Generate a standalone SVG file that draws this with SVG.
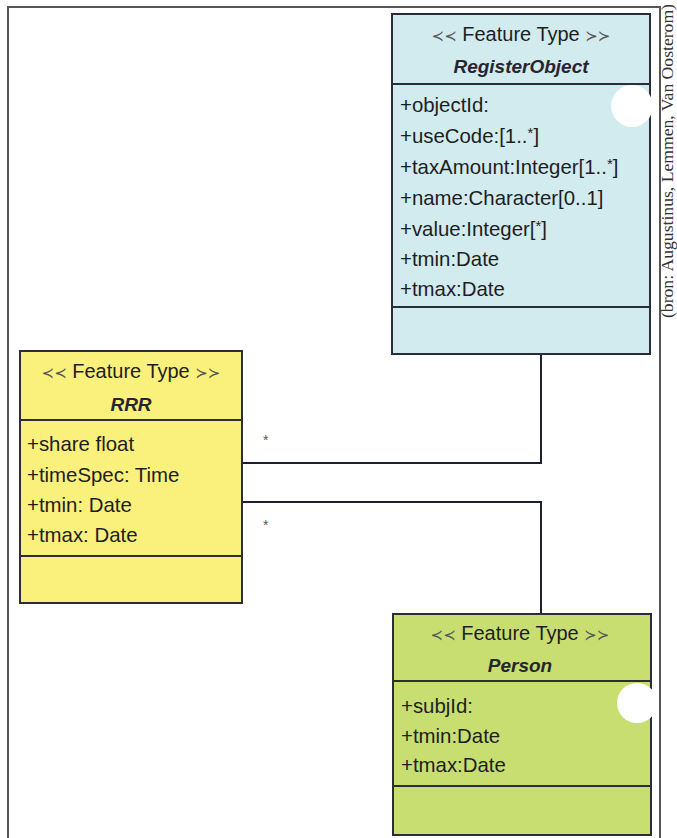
<svg xmlns="http://www.w3.org/2000/svg" width="677" height="838" viewBox="0 0 677 838">
<style>
.box{stroke:#2b2e38;stroke-width:2}
.t{font-family:"Liberation Sans",Arial,sans-serif;font-size:20.4px;fill:#1e1e1e}
.h{font-family:"Liberation Sans",Arial,sans-serif;font-size:20px;fill:#1e1e1e;text-anchor:middle}
.g{fill:#555;font-family:"DejaVu Sans",sans-serif;font-size:15px}
.n{font-family:"Liberation Sans",Arial,sans-serif;font-size:19px;font-weight:bold;font-style:italic;fill:#262630;text-anchor:middle}
.conn{fill:none;stroke:#1e2030;stroke-width:2}
.m{font-family:"Liberation Sans",Arial,sans-serif;font-size:14px;fill:#556050}
</style>
<rect width="677" height="838" fill="#ffffff"/>
<g id="frame">
<polyline points="8,838 8,7 660,7 660,838" fill="none" stroke="#555" stroke-width="2"/>
<text transform="translate(673,318) rotate(-90)" font-family="Liberation Serif,serif" font-size="16" fill="#333" textLength="314" lengthAdjust="spacingAndGlyphs">(bron: Augustinus, Lemmen, Van Oosterom)</text>
</g>
<g id="connectors">
<polyline class="conn" points="541,354 541,463 242,463"/>
<polyline class="conn" points="242,502 541,502 541,614"/>
<text class="m" x="263" y="445">*</text>
<text class="m" x="263" y="530">*</text>
</g>
<g id="RegisterObject">
<rect class="box" x="392" y="14" width="258" height="340" fill="#d2ebef"/>
<line class="box" x1="392" y1="84" x2="650" y2="84"/>
<line class="box" x1="392" y1="307" x2="650" y2="307"/>
<text class="h" x="521" y="41"><tspan class="g">≺≺</tspan> Feature Type <tspan class="g">≻≻</tspan></text>
<text class="n" x="521" y="73">RegisterObject</text>
<text class="t" x="400" y="112">+objectId:</text>
<text class="t" x="400" y="143">+useCode:[1..<tspan dy="-5" font-size="15">*</tspan><tspan dy="5">]</tspan></text>
<text class="t" x="400" y="174">+taxAmount:Integer[1..<tspan dy="-5" font-size="15">*</tspan><tspan dy="5">]</tspan></text>
<text class="t" x="400" y="205">+name:Character[0..1]</text>
<text class="t" x="400" y="236">+value:Integer[<tspan dy="-5" font-size="15">*</tspan><tspan dy="5">]</tspan></text>
<text class="t" x="400" y="266">+tmin:Date</text>
<text class="t" x="400" y="296">+tmax:Date</text>
<circle cx="632" cy="106" r="21" fill="#ffffff"/>
</g>
<g id="RRR">
<rect class="box" x="20" y="351" width="222" height="252" fill="#faf07c"/>
<line class="box" x1="20" y1="420" x2="242" y2="420"/>
<line class="box" x1="20" y1="556" x2="242" y2="556"/>
<text class="h" x="131" y="378"><tspan class="g">≺≺</tspan> Feature Type <tspan class="g">≻≻</tspan></text>
<text class="n" x="131" y="411">RRR</text>
<text class="t" x="27" y="451">+share float</text>
<text class="t" x="27" y="482">+timeSpec: Time</text>
<text class="t" x="27" y="512">+tmin: Date</text>
<text class="t" x="27" y="542">+tmax: Date</text>
</g>
<g id="Person">
<rect class="box" x="393" y="614" width="258" height="221" fill="#c8de70"/>
<line class="box" x1="393" y1="681" x2="651" y2="681"/>
<line class="box" x1="393" y1="786" x2="651" y2="786"/>
<text class="h" x="520" y="640"><tspan class="g">≺≺</tspan> Feature Type <tspan class="g">≻≻</tspan></text>
<text class="n" x="520" y="672">Person</text>
<text class="t" x="401" y="713">+subjId:</text>
<text class="t" x="401" y="743">+tmin:Date</text>
<text class="t" x="401" y="772">+tmax:Date</text>
<circle cx="637" cy="703" r="20" fill="#ffffff"/>
</g>
</svg>
